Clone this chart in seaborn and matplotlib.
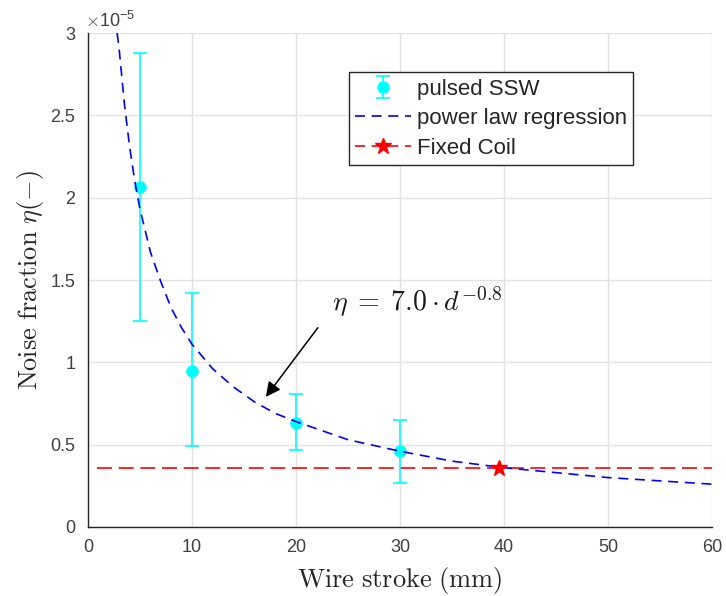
import numpy as np
import pandas as pd
import seaborn as sns
import matplotlib.pyplot as plt
from matplotlib.lines import Line2D

# measured points (pulsed SSW)
stroke = [5, 10, 20, 30]
eta = [2.065e-5, 0.947e-5, 0.63e-5, 0.46e-5]
eta_low = [1.25e-5, 0.49e-5, 0.47e-5, 0.27e-5]
eta_high = [2.88e-5, 1.42e-5, 0.81e-5, 0.65e-5]

# power law regression curve
fit_d = [2.8, 3, 3.5, 4, 4.5, 5, 6, 7, 8, 9, 10, 12, 14, 16, 18, 20,
         25, 30, 35, 40, 45, 50, 55, 60]
fit_eta = [3.0e-5, 2.90e-5, 2.57e-5, 2.31e-5, 2.10e-5, 1.93e-5, 1.67e-5,
           1.49e-5, 1.33e-5, 1.21e-5, 1.11e-5, 0.96e-5, 0.85e-5, 0.76e-5,
           0.69e-5, 0.64e-5, 0.53e-5, 0.46e-5, 0.40e-5, 0.36e-5, 0.33e-5,
           0.30e-5, 0.28e-5, 0.26e-5]

# fixed coil reference
coil_x = [0.9, 60]
coil_eta = [0.358e-5, 0.358e-5]
star_x = 39.5
star_eta = 0.358e-5

sns.set_style('white')
plt.rcParams['font.family'] = ['Liberation Sans', 'DejaVu Sans']
plt.rcParams['mathtext.fontset'] = 'cm'

fig = plt.figure(figsize=(7.26, 5.96), dpi=100)
ax = fig.add_axes([0.1212, 0.1158, 0.8595, 0.8288])

gray = '#262626'
tickgray = '#404040'

ebar = ax.errorbar(stroke, eta,
                   yerr=[np.array(eta) - np.array(eta_low), np.array(eta_high) - np.array(eta)],
                   fmt='o', color='cyan', ecolor='cyan', markersize=8, capsize=4.7,
                   elinewidth=1.2, capthick=1.2, zorder=3)

fit_df = pd.DataFrame({'d': fit_d, 'eta': fit_eta})
sns.lineplot(data=fit_df, x='d', y='eta', ax=ax, color='blue', linewidth=1.2,
             zorder=4, sort=False)
ax.lines[-1].set_linestyle((0, (6, 4)))

coil_df = pd.DataFrame({'d': coil_x, 'eta': coil_eta})
sns.lineplot(data=coil_df, x='d', y='eta', ax=ax, color='red', linewidth=1.2, zorder=2)
ax.lines[-1].set_linestyle((0, (9, 4)))
ax.plot([star_x], [star_eta], marker='*', color='red', markersize=12, linestyle='none', zorder=5)

ax.set_xlim(0, 60)
ax.set_ylim(0, 3e-5)
ax.set_xticks([0, 10, 20, 30, 40, 50, 60])
ax.set_yticks(np.arange(0, 3.01e-5, 0.5e-5))
ax.set_yticklabels(['0', '0.5', '1', '1.5', '2', '2.5', '3'])
ax.grid(True, color='#e3e3e3', linewidth=1)
ax.set_axisbelow(True)

for side in ['top', 'right']:
    ax.spines[side].set_visible(False)
for side in ['left', 'bottom']:
    ax.spines[side].set_color(gray)
    ax.spines[side].set_linewidth(1.0)
ax.tick_params(axis='both', direction='in', length=4, width=1, colors=tickgray,
               labelsize=13)
ax.tick_params(axis='y', pad=9)
ax.tick_params(axis='x', pad=9)

ax.text(-0.005, 1.005, r'$\times\mathregular{10^{-5}}$', transform=ax.transAxes,
        fontsize=13, color=tickgray, ha='left', va='bottom')

ax.set_xlabel(r'$\mathrm{Wire\ stroke\ (mm)}$', fontsize=19, color=gray, labelpad=6)
ax.set_ylabel(r'$\mathrm{Noise\ fraction}\ \eta(-)$', fontsize=19, color=gray, labelpad=3)

ax.text(23.5, 1.37e-5, r'$\eta\;=\;7.0\cdot d^{-0.8}$', fontsize=20, color='#1a1a1a',
        ha='left', va='center')
ax.annotate('', xy=(17.1, 0.79e-5), xytext=(22.1, 1.21e-5),
            arrowprops=dict(arrowstyle='-|>', color='black', lw=1.1,
                            mutation_scale=22, shrinkA=0, shrinkB=0))

handles = [
    ebar,
    Line2D([], [], color='blue', linestyle=(0, (6, 4)), linewidth=1.2),
    Line2D([], [], color='red', linestyle=(0, (6, 4)), linewidth=1.2,
           marker='*', markersize=12),
]
leg = ax.legend(handles, ['pulsed SSW', 'power law regression', 'Fixed Coil'],
                loc='upper left', bbox_to_anchor=(0.418, 0.921), borderaxespad=0,
                fontsize=16, fancybox=False, framealpha=1, handlelength=2.5,
                labelspacing=0.38, borderpad=0.3, handletextpad=0.25)
leg.get_frame().set_edgecolor(gray)
leg.get_frame().set_linewidth(1.0)

fig.savefig('out.png', dpi=100)
